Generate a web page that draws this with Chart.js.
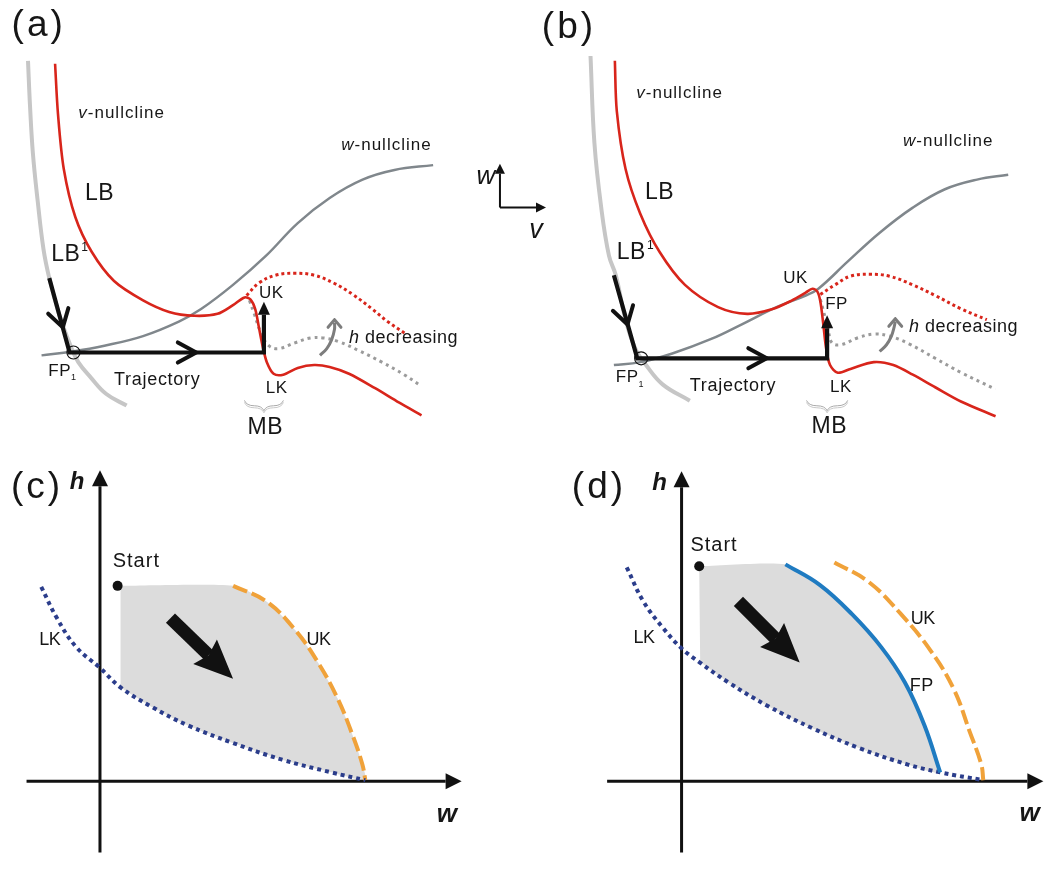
<!DOCTYPE html>
<html>
<head>
<meta charset="utf-8">
<script src="https://cdn.jsdelivr.net/npm/chart.js@4.4.0/dist/chart.umd.min.js"></script>
<style>
    html, body { margin: 0; padding: 0; background: #fff; }
    #wrap { position: relative; width: 1050px; height: 875px; overflow: hidden; }
    #wrap canvas { position: absolute; }
</style>
</head>
<body>
<div id="wrap">
    <canvas id="chartA" width="465" height="450" style="left:0;top:0"></canvas>
    <canvas id="chartB" width="585" height="450" style="left:465px;top:0"></canvas>
    <canvas id="chartC" width="480" height="425" style="left:0;top:450px"></canvas>
    <canvas id="chartD" width="490" height="425" style="left:560px;top:450px"></canvas>
</div>
<script>
// ---- panel (a): v-w phase plane (figure units, w downwards) ----
const aLB1 = [[21,55],[23,100],[26,150],[31,200],[37,250],[43,280],[53,317],[65,350],[73,367],[86,383],[102,400],[123,412]];
const aVNull = [[49,58],[52,110],[58,167],[70,217],[87,253],[110,283],[140,303],[167,315],[193,319],[217,317],[233,308],[245,300],[251,302],[256,312],[260,332],[264,352],[268,367],[275,379],[285,380],[300,373],[317,370],[333,372],[353,379],[380,394],[405,409],[428,422]];
const aVNullOld = [[247,298],[260,285],[277,277],[297,275],[317,277],[337,285],[357,297],[377,312],[393,325],[412,338]];
const aHLower = [[250,303],[255,317],[262,337],[270,350],[280,353],[297,347],[313,342],[327,342],[343,346],[363,355],[387,367],[410,380],[428,392]];
const aWNull = [[35,360],[67,356],[100,350],[140,340],[177,325],[200,312],[233,287],[267,257],[300,223],[333,197],[367,178],[400,168],[440,163]];
const aTraj = [[43,280],[64,357],[265,357],[265,318]];
const aFP1 = [[68,357]];
const aHArrow = [[323,360],[330,353],[335,344],[338,333],[338,326]];

// ---- panel (b) ----
const bLB1 = [[586,50],[590,140],[597,207],[605,257],[612,277],[622,323],[632,353],[643,370],[660,390],[688,407]];
const bVNull = [[611,55],[613,107],[622,167],[637,213],[657,253],[683,287],[717,310],[747,317],[773,312],[793,303],[807,295],[814,291],[819,294],[822,304],[825,327],[828,353],[832,370],[840,378],[853,374],[877,367],[897,370],[917,380],[940,393],[967,408],[1002,423]];
const bVNullOld = [[822,297],[837,287],[853,278],[873,276],[893,278],[917,287],[940,298],[967,312],[993,323]];
const bHLower = [[822,302],[825,313],[830,333],[834,347],[843,349],[860,342],[877,338],[893,340],[913,348],[940,363],[967,378],[1002,395]];
const bWNull = [[610,370],[637,367],[670,358],[710,343],[743,327],[777,310],[807,298],[820,291],[850,263],[883,233],[917,207],[950,188],[983,178],[1015,173]];
const bTraj = [[610,277],[634,363],[829,363],[829,332]];
const bFP1 = [[638,363]];
const bHArrow = [[883,356],[890,349],[895,340],[898,330],[899,325]];
const keyW = [[493,207],[493,172]];
const keyV = [[493,207],[530,207]];

// ---- panel (c): w-h plane ----
const cHAxis = [[0,-73],[0,302]];
const cWAxis = [[-75,0],[353,0]];
const cLK = [[-60,199],[-44,167],[-24,137],[0,116],[21,96],[53,76],[90,57],[136,39],[186,22],[236,9],[271,1]];
const cUK = [[136,200],[170,184],[200,154],[223,121],[243,84],[258,47],[268,17],[271,1]];
const cRegion = [[21,200],[136,200],[170,184],[200,154],[223,121],[243,84],[258,47],[268,17],[271,1],[236,9],[186,22],[136,39],[90,57],[53,76],[21,96]];
const cStart = [[18,200]];
const cDrift = [[72,167],[111,129]];

// ---- panel (d) ----
const dHAxis = [[0,-73],[0,301]];
const dWAxis = [[-76,0],[353,0]];
const dLK = [[-56,219],[-39,184],[-19,157],[0,136],[18,122],[48,101],[88,77],[134,54],[181,34],[231,17],[264,9],[308,1]];
const dFP = [[106,222],[141,201],[174,171],[204,137],[228,101],[248,57],[264,9]];
const dUK = [[156,224],[191,204],[224,171],[254,134],[278,94],[294,51],[306,17],[308,1]];
const dRegion = [[18,220],[106,222],[141,201],[174,171],[204,137],[228,101],[248,57],[264,9],[231,17],[181,34],[134,54],[88,77],[48,101],[19,122]];
const dStart = [[18,220]];
const dDrift = [[58,184],[96,146]];

const FONT = '"Liberation Sans", Arial, sans-serif';
const RED = '#d8251b';
const xy = (arr) => arr.map(([x, y]) => ({ x, y }));

function line(data, color, width, extra) {
    return Object.assign({
        data: xy(data), showLine: true, borderColor: color, borderWidth: width,
        pointRadius: 0, fill: false, tension: 0.4, borderCapStyle: 'butt', order: 5,
    }, extra || {});
}

const extras = {
    id: 'extras',
    afterDatasetsDraw(chart, args, opts) {
        const { ctx } = chart;
        const sx = chart.scales.x, sy = chart.scales.y;
        const P = (p) => [sx.getPixelForValue(p[0]), sy.getPixelForValue(p[1])];
        ctx.save();

        // filled arrow heads at the end of flagged datasets
        chart.data.datasets.forEach((ds) => {
            if (!ds.arrowEnd) return;
            const n = ds.data.length;
            const a = P([ds.data[n - 2].x, ds.data[n - 2].y]);
            const b = P([ds.data[n - 1].x, ds.data[n - 1].y]);
            const ang = Math.atan2(b[1] - a[1], b[0] - a[0]);
            const c = Math.cos(ang), s = Math.sin(ang);
            const { len, half, back = 0 } = ds.arrowEnd;
            ctx.fillStyle = ds.borderColor;
            ctx.beginPath();
            ctx.moveTo(b[0] + len * c, b[1] + len * s);
            ctx.lineTo(b[0] - back * c - half * s, b[1] - back * s + half * c);
            ctx.lineTo(b[0], b[1]);
            ctx.lineTo(b[0] - back * c + half * s, b[1] - back * s - half * c);
            ctx.closePath();
            ctx.fill();
        });

        // open chevrons sitting on a line
        (opts.chevrons || []).forEach((cv) => {
            const f = P(cv.from), t = P(cv.tip);
            const ang = Math.atan2(t[1] - f[1], t[0] - f[0]);
            ctx.strokeStyle = cv.color;
            ctx.lineWidth = cv.width;
            ctx.lineCap = 'round';
            ctx.beginPath();
            [-1, 1].forEach((k) => {
                const aa = ang + Math.PI - k * cv.spread;
                ctx.moveTo(t[0], t[1]);
                ctx.lineTo(t[0] + cv.len * Math.cos(aa), t[1] + cv.len * Math.sin(aa));
            });
            ctx.stroke();
        });

        // curly braces
        (opts.braces || []).forEach((br) => {
            const l = P([br.x0, br.y]), r = P([br.x1, br.y]);
            const y0 = l[1], h = 10, xm = (l[0] + r[0]) / 2;
            [[0, '#a9a9a9'], [2, '#c8c8c8']].forEach(([off, col]) => {
                ctx.strokeStyle = col;
                ctx.lineWidth = 1;
                ctx.beginPath();
                ctx.moveTo(l[0], y0 + off);
                ctx.quadraticCurveTo(l[0] + 2, y0 + h / 2 + off, (l[0] + xm) / 2, y0 + h / 2 + off);
                ctx.quadraticCurveTo(xm - 2, y0 + h / 2 + off, xm, y0 + h + off);
                ctx.quadraticCurveTo(xm + 2, y0 + h / 2 + off, (xm + r[0]) / 2, y0 + h / 2 + off);
                ctx.quadraticCurveTo(r[0] - 2, y0 + h / 2 + off, r[0], y0 + off);
                ctx.stroke();
            });
        });

        // text labels
        ctx.textBaseline = 'middle';
        ctx.textAlign = 'left';
        (opts.labels || []).forEach((lb) => {
            const p = P([lb.x, lb.y]);
            let x = p[0];
            ctx.fillStyle = lb.color || '#161616';
            lb.parts.forEach(([t, k]) => {
                let size = lb.size, dy = 0, style = '';
                if (k === 'i') style = 'italic ';
                if (k === 'bi') style = 'italic bold ';
                if (k === 'sup') { size = Math.round(lb.size * 0.5); dy = -lb.size * 0.33; x += 1; }
                if (k === 'sub') { size = Math.round(lb.size * 0.55); dy = lb.size * 0.38; }
                ctx.font = style + size + 'px ' + FONT;
                ctx.letterSpacing = (k === 'sup' || k === 'sub' ? 0 : (lb.sp || 0)) + 'px';
                ctx.fillText(t, x, p[1] + dy);
                x += ctx.measureText(t).width;
            });
        });
        ctx.restore();
    },
};

function makeChart(id, datasets, xr, yr, reverse, extraOpts) {
    return new Chart(document.getElementById(id), {
        type: 'scatter',
        data: { datasets },
        plugins: [extras],
        options: {
            responsive: false,
            animation: false,
            devicePixelRatio: 1,
            layout: { padding: 0 },
            events: [],
            plugins: { legend: { display: false }, tooltip: { enabled: false }, extras: extraOpts },
            scales: {
                x: { type: 'linear', min: xr[0], max: xr[1], display: false },
                y: { type: 'linear', min: yr[0], max: yr[1], reverse, display: false },
            },
        },
    });
}

const lbl = (x, y, size, parts, sp) => ({ x, y, size, parts, sp: sp === undefined ? 1 : sp });

function phasePanel(lb1, vnull, vold, hlow, wnull, traj, fp1, harrow) {
    return [
        line(lb1, '#c6c6c6', 4, { order: 8 }),
        line(wnull, '#80878c', 2.5, { order: 7 }),
        line(hlow, '#9b9b9b', 3, { borderDash: [3, 4], order: 6 }),
        line(vold, RED, 3, { borderDash: [3, 3], order: 6 }),
        line(vnull, RED, 2.6, { tension: 0.3, order: 5 }),
        line(harrow, '#7d7d7d', 3, { order: 4 }),
        line(traj, '#111111', 4.2, { tension: 0, borderJoinStyle: 'miter', arrowEnd: { len: 13, half: 6 }, order: 2 }),
        { data: xy(fp1), pointRadius: 6.5, pointBorderWidth: 1.2, pointBorderColor: '#111', pointBackgroundColor: 'rgba(255,255,255,0)', order: 1 },
    ];
}

makeChart('chartA',
    phasePanel(aLB1, aVNull, aVNullOld, aHLower, aWNull, aTraj, aFP1, aHArrow),
    [0, 465], [0, 450], true, {
        chevrons: [
            { from: [43, 280], tip: [57, 331], len: 20, spread: 0.55, width: 4, color: '#111' },
            { from: [100, 357], tip: [195, 357], len: 21, spread: 0.5, width: 4, color: '#111' },
            { from: [338, 333], tip: [338, 323], len: 10, spread: 0.7, width: 3, color: '#7d7d7d' },
        ],
        braces: [{ x0: 245, x1: 285, y: 407 }],
        labels: [
            lbl(4, 19, 37, [['(a)', '']], 3),
            lbl(73, 109, 17, [['v', 'i'], ['-nullcline', '']]),
            lbl(345, 142, 17, [['w', 'i'], ['-nullcline', '']]),
            lbl(80, 193, 23, [['LB', '']], 0.5),
            lbl(45, 256, 23, [['LB', ''], ['1', 'sup']], 0.5),
            lbl(260, 296, 17, [['UK', '']], 0.5),
            lbl(353, 342, 18, [['h', 'i'], [' decreasing', '']], 0.5),
            lbl(42, 376, 17, [['FP', ''], ['1', 'sub']], 0.5),
            lbl(110, 386, 18, [['Trajectory', '']], 0.7),
            lbl(267, 394, 17, [['LK', '']], 0.5),
            lbl(248, 435, 23, [['MB', '']], 0.5),
        ],
    });

const bSets = phasePanel(bLB1, bVNull, bVNullOld, bHLower, bWNull, bTraj, bFP1, bHArrow);
bSets.push(line(keyW, '#111', 2, { tension: 0, arrowEnd: { len: 10, half: 5 }, order: 3 }));
bSets.push(line(keyV, '#111', 2, { tension: 0, arrowEnd: { len: 10, half: 5 }, order: 3 }));
makeChart('chartB', bSets, [465, 1050], [0, 450], true, {
    chevrons: [
        { from: [610, 277], tip: [624, 328], len: 20, spread: 0.55, width: 4, color: '#111' },
        { from: [700, 363], tip: [767, 363], len: 21, spread: 0.5, width: 4, color: '#111' },
        { from: [899, 332], tip: [899, 322], len: 10, spread: 0.7, width: 3, color: '#7d7d7d' },
    ],
    braces: [{ x0: 808, x1: 850, y: 407 }],
    labels: [
        lbl(536, 21, 37, [['(b)', '']], 3),
        lbl(469, 175, 26, [['w', 'i']], 0),
        lbl(523, 231, 27, [['v', 'i']], 0),
        lbl(633, 89, 17, [['v', 'i'], ['-nullcline', '']]),
        lbl(907, 138, 17, [['w', 'i'], ['-nullcline', '']]),
        lbl(642, 192, 23, [['LB', '']], 0.5),
        lbl(613, 254, 23, [['LB', ''], ['1', 'sup']], 0.5),
        lbl(784, 280, 17, [['UK', '']], 0.5),
        lbl(827, 307, 17, [['FP', '']], 0.5),
        lbl(913, 331, 18, [['h', 'i'], [' decreasing', '']], 0.5),
        lbl(612, 383, 17, [['FP', ''], ['1', 'sub']], 0.5),
        lbl(688, 392, 18, [['Trajectory', '']], 0.7),
        lbl(832, 393, 17, [['LK', '']], 0.5),
        lbl(813, 434, 23, [['MB', '']], 0.5),
    ],
});

function knotPanel(hAxis, wAxis, region, lk, uk, fp, start, drift) {
    const sets = [
        line(region, 'rgba(0,0,0,0)', 0, { fill: 'shape', backgroundColor: '#dcdcdc', tension: 0.2, order: 9 }),
        line(hAxis, '#111', 3, { tension: 0, arrowEnd: { len: 16, half: 8 }, order: 7 }),
        line(wAxis, '#111', 3, { tension: 0, arrowEnd: { len: 16, half: 8 }, order: 7 }),
        line(uk, '#f0a23a', 4, { borderDash: [15, 5], order: 5 }),
        line(lk, '#2b3d8b', 4, { borderDash: [4, 4], order: 4 }),
        line(drift, '#111', 13, { tension: 0, arrowEnd: { len: 34, half: 17, back: 5 }, order: 2 }),
        { data: xy(start), pointRadius: 5, pointBackgroundColor: '#111', pointBorderWidth: 0, order: 1 },
    ];
    if (fp) sets.push(line(fp, '#1f7bc1', 4, { order: 3 }));
    return sets;
}

makeChart('chartC',
    knotPanel(cHAxis, cWAxis, cRegion, cLK, cUK, null, cStart, cDrift),
    [-97, 383], [-91, 334], false, {
        labels: [
            lbl(-91, 300, 37, [['(c)', '']], 3),
            lbl(-31, 306, 24, [['h', 'bi']], 0),
            lbl(344, -34, 26, [['w', 'bi']], 0),
            lbl(13, 225, 20, [['Start', '']], 1),
            lbl(-62, 144, 18, [['LK', '']], -0.5),
            lbl(211, 144, 18, [['UK', '']], -0.5),
        ],
    });

makeChart('chartD',
    knotPanel(dHAxis, dWAxis, dRegion, dLK, dUK, dFP, dStart, dDrift),
    [-119, 371], [-91, 334], false, {
        labels: [
            lbl(-112, 300, 37, [['(d)', '']], 3),
            lbl(-30, 305, 24, [['h', 'bi']], 0),
            lbl(345, -33, 26, [['w', 'bi']], 0),
            lbl(9, 241, 20, [['Start', '']], 1),
            lbl(-49, 147, 18, [['LK', '']], -0.5),
            lbl(234, 166, 18, [['UK', '']], -0.5),
            lbl(233, 97, 18, [['FP', '']], 0.5),
        ],
    });
</script>
</body>
</html>
